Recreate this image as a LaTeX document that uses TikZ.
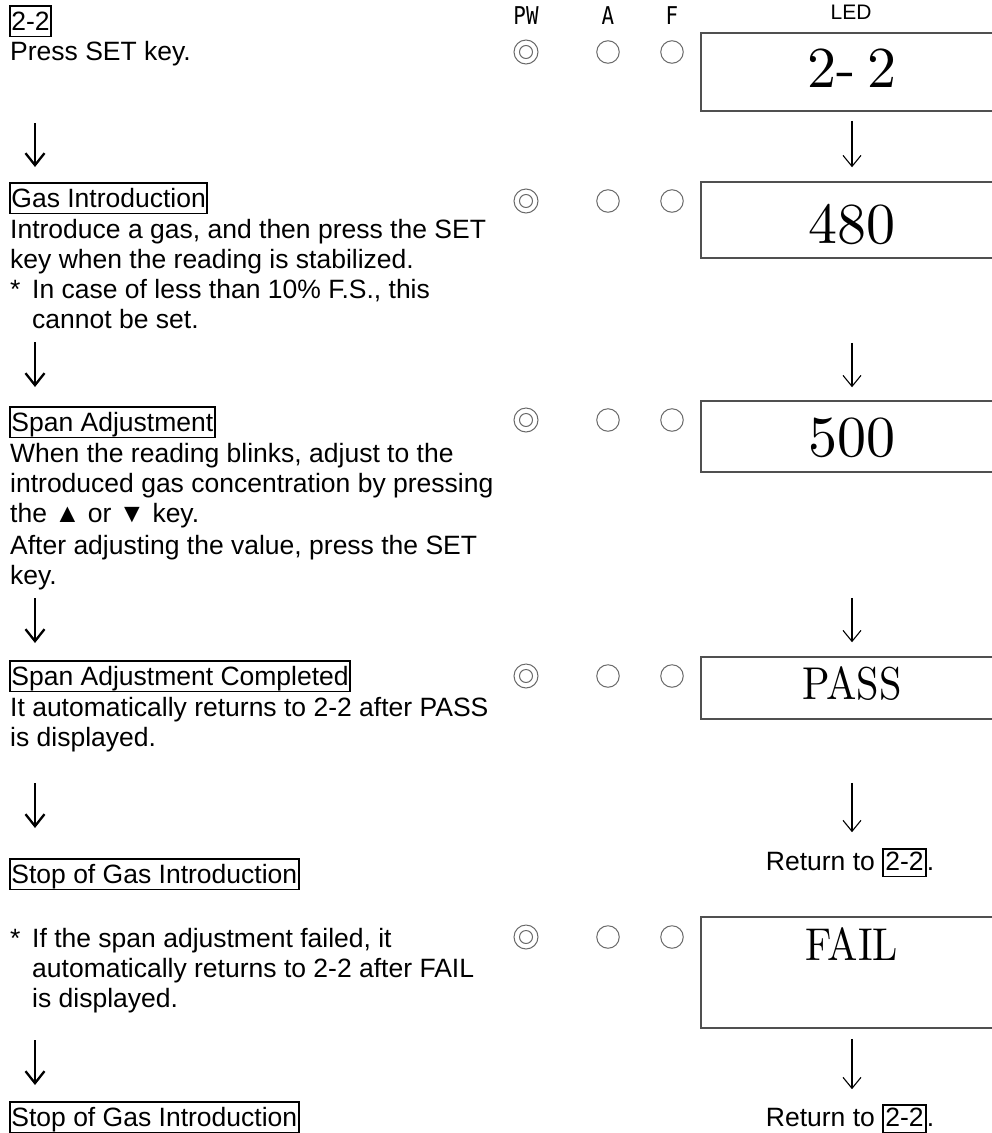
\documentclass[tikz,border=0pt]{standalone}
\usepackage{fontspec}
\usepackage{graphicx}
\newfontfamily\arialf{Liberation Sans}
\newfontfamily\monof{DejaVu Sans Mono}
\newfontfamily\lmten{lmroman10-regular}[Extension=.otf]
\usetikzlibrary{arrows.meta}
\definecolor{lampgray}{RGB}{105,105,105}
\definecolor{boxgray}{RGB}{80,80,80}
\begin{document}
\begin{tikzpicture}[x=1pt,y=-1pt,
  txt/.style={font=\arialf\fontsize{26.5}{30}\selectfont, inner sep=0pt, anchor=base west},
  titlebox/.style={txt, draw=black, line width=1.8pt, inner xsep=1.5pt, inner ysep=1pt, text height=23pt, text depth=5.5pt},
  hdr/.style={font=\monof\fontsize{24.5}{25}\selectfont, inner sep=0pt, anchor=center},
  lamp/.style={circle, draw=lampgray, line width=1pt, minimum size=22.5pt, inner sep=0pt},
  pwlamp/.style={circle, draw=lampgray, line width=1pt, minimum size=24pt, inner sep=0pt},
  ledbox/.style={rectangle, draw=boxgray, line width=1.5pt, minimum width=302pt, inner sep=0pt},
  digits/.style={font=\lmten\fontsize{58}{58}\selectfont, inner sep=0pt, anchor=center},
  word/.style={font=\lmten\fontsize{46}{46}\selectfont, inner sep=0pt, anchor=center},
  rarrow/.style={line width=1.1pt, -{Straight Barb[length=11pt,width=18pt,line width=1.1pt]}},
  larrow/.style={line width=2.6pt, -{Straight Barb[length=12pt,width=19pt,line width=2.3pt]}},
  retnode/.style={txt, anchor=base}
]
\useasboundingbox (0,0) rectangle (992,1133);

% ---------- left column ----------
\node[titlebox] (t1) at (9,30) {2-2};
\node[txt] (l1a) at (10,60) {Press SET key.};

\node[titlebox] (t2) at (9,207) {Gas Introduction};
\node[txt] (l2a) at (10,238) {Introduce a gas, and then press the SET};
\node[txt] (l2b) at (10,268) {key when the reading is stabilized.};
\node[txt] (l2c) at (10,298) {\makebox[22pt][l]{*}In case of less than 10\% F.S., this};
\node[txt] (l2d) at (32,328) {cannot be set.};

\node[titlebox] (t3) at (9,431) {Span Adjustment};
\node[txt] (l3a) at (10,462) {When the reading blinks, adjust to the};
\node[txt] (l3b) at (10,492) {introduced gas concentration by pressing};
\node[txt] (l3c) at (10,522) {the ▲ or ▼ key.};
\node[txt] (l3d) at (10,554) {After adjusting the value, press the SET};
\node[txt] (l3e) at (10,584) {key.};

\node[titlebox] (t4) at (9,685) {Span Adjustment Completed};
\node[txt] (l4a) at (10,716) {It automatically returns to 2-2 after PASS};
\node[txt] (l4b) at (10,746) {is displayed.};

\node[titlebox] (t5) at (9,883) {Stop of Gas Introduction};

\node[txt] (l5a) at (10,947) {\makebox[22pt][l]{*}If the span adjustment failed, it};
\node[txt] (l5b) at (32,977) {automatically returns to 2-2 after FAIL};
\node[txt] (l5c) at (32,1007) {is displayed.};

\node[titlebox] (t6) at (9,1126) {Stop of Gas Introduction};

% left arrows
\coordinate (a1s) at (35,123);  \coordinate (a1e) at (35,167);
\coordinate (a2s) at (35,342);  \coordinate (a2e) at (35,387);
\coordinate (a3s) at (35,598);  \coordinate (a3e) at (35,643);
\coordinate (a4s) at (35,783);  \coordinate (a4e) at (35,828);
\coordinate (a5s) at (35,1040); \coordinate (a5e) at (35,1085);
\draw[larrow] (a1s) -- (a1e);
\draw[larrow] (a2s) -- (a2e);
\draw[larrow] (a3s) -- (a3e);
\draw[larrow] (a4s) -- (a4e);
\draw[larrow] (a5s) -- (a5e);

% ---------- headers ----------
\node[hdr] (hpw) at (526,16) {\scalebox{0.85}[1]{PW}};
\node[hdr] (ha) at (608,16) {\scalebox{0.85}[1]{A}};
\node[hdr] (hf) at (672,16) {\scalebox{0.85}[1]{F}};
\node[font=\arialf\fontsize{21}{21}\selectfont, inner sep=0pt] (hled) at (851,12) {LED};

% ---------- lamps ----------
\foreach \r/\y in {1/52,2/201,3/420,4/676,5/937}{
  \node[pwlamp] (pw\r) at (526,\y) {};
  \draw[lampgray, line width=1pt] (pw\r.center) circle (6.5pt);
  \node[lamp] (a\r) at (608,\y) {};
  \node[lamp] (f\r) at (672,\y) {};
}

% ---------- LED boxes ----------
\node[ledbox, minimum height=78pt] (led1) at (852,72) {};
\node[ledbox, minimum height=76pt] (led2) at (852,220) {};
\node[ledbox, minimum height=71pt] (led3) at (852,436.5) {};
\node[ledbox, minimum height=62pt] (led4) at (852,688) {};
\node[ledbox, minimum height=111pt] (led5) at (852,972.5) {};

\node[digits] (v1) at (852,68.5) {\spaceskip=0.2em 2- 2};
\node[digits] (v2) at (852,224) {480};
\node[digits] (v3) at (852,438) {500};
\node[word] (v4) at (852,684) {\scalebox{0.88}[1]{PASS}};
\node[word] (v5) at (852,944) {\scalebox{0.88}[1]{FAIL}};

% return labels
\node[retnode] (ret1) at (850,870) {Return to \setlength{\fboxsep}{1.5pt}\setlength{\fboxrule}{1.6pt}\fbox{\rule[-4pt]{0pt}{22pt}2-2}.};
\node[retnode] (ret2) at (850,1126) {Return to \setlength{\fboxsep}{1.5pt}\setlength{\fboxrule}{1.6pt}\fbox{\rule[-4pt]{0pt}{22pt}2-2}.};

% right arrows
\draw[rarrow, shorten <=9pt, shorten >=14pt] (led1.south) -- (led2.north);
\draw[rarrow, shorten <=84pt, shorten >=13pt] (led2.south) -- (led3.north);
\draw[rarrow, shorten <=125pt, shorten >=14pt] (led3.south) -- (led4.north);
\draw[rarrow, shorten <=63pt, shorten >=16pt] (led4.south) -- (led4.south |- ret1.north);
\draw[rarrow, shorten <=10pt, shorten >=15pt] (led5.south) -- (led5.south |- ret2.north);
\end{tikzpicture}
\end{document}
